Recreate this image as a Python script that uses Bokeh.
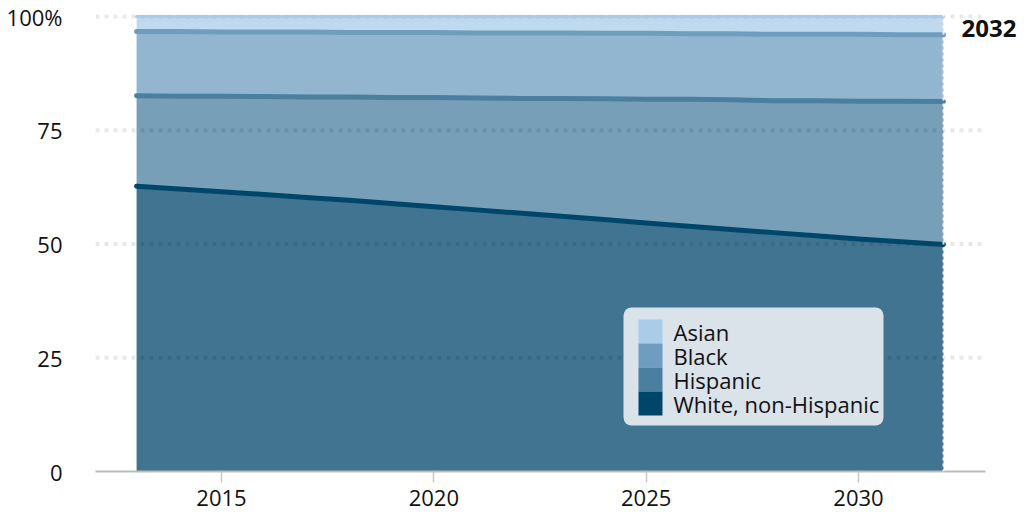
import numpy as np
from bokeh.plotting import figure
from bokeh.models import Range1d, FixedTicker, Span, Label, BoxAnnotation, ColumnDataSource
from bokeh.embed import file_html
from bokeh.resources import INLINE

# Share of population by group, percent (stacked bottom to top)
years = list(range(2013, 2033))
white = [62.7, 62.1, 61.5, 60.9, 60.2, 59.6, 58.9, 58.2, 57.5, 56.8,
         56.1, 55.4, 54.6, 53.9, 53.2, 52.5, 51.8, 51.1, 50.5, 49.9]
hispanic = [19.9, 20.4, 21.0, 21.5, 22.1, 22.7, 23.3, 24.0, 24.6, 25.2,
            25.9, 26.5, 27.2, 27.9, 28.5, 29.0, 29.7, 30.3, 30.9, 31.4]
black = [14.1, 14.2, 14.1, 14.2, 14.3, 14.2, 14.3, 14.3, 14.3, 14.4,
         14.4, 14.4, 14.5, 14.4, 14.5, 14.6, 14.6, 14.7, 14.6, 14.7]
asian = [3.3, 3.3, 3.4, 3.4, 3.4, 3.5, 3.5, 3.5, 3.6, 3.6,
         3.6, 3.7, 3.7, 3.8, 3.8, 3.9, 3.9, 3.9, 4.0, 4.0]

groups = ["White, non-Hispanic", "Hispanic", "Black", "Asian"]
colors = ["#00466b", "#4a7fa0", "#6f9dc0", "#a9cde9"]
x_ticks = [2015, 2020, 2025, 2030]
y_ticks = [0, 25, 50, 75, 100]
y_tick_labels = {0: "0", 25: "25", 50: "50", 75: "75", 100: "100%"}
last_year = 2032

FONT = "Open Sans"
X_START, X_AXIS_END, X_END = 2012.033, 2032.99, 2033.908
Y_END = 101.98

# page layout in pixels
LEFT, TOP, WIDTH, HEIGHT = 95, 7, 1024, 512
FRAME_W = WIDTH - LEFT
FRAME_B = 471


def px_x(px):
    """Horizontal page pixel -> data x."""
    return X_START + (px - LEFT) * (X_END - X_START) / FRAME_W


def px_y(py):
    """Vertical page pixel -> data y."""
    return (FRAME_B - py) * Y_END / (FRAME_B - TOP)


stack = np.cumsum(np.array([white, hispanic, black, asian]), axis=0)
bottoms = np.vstack([np.zeros(len(years)), stack[:-1]])

p = figure(width=WIDTH, height=HEIGHT, output_backend="svg", toolbar_location=None,
           x_range=Range1d(X_START, X_END), y_range=Range1d(0, Y_END),
           min_border_left=LEFT, min_border_right=0, min_border_top=TOP,
           min_border_bottom=HEIGHT - FRAME_B, outline_line_color=None,
           background_fill_color="white", border_fill_color="white")

# stacked areas
for i in range(4):
    src = ColumnDataSource(dict(x=years, y1=bottoms[i], y2=stack[i]))
    p.varea(x="x", y1="y1", y2="y2", source=src, fill_color=colors[i], fill_alpha=0.75)

# dotted horizontal guides, drawn over the areas
grid_ticks = [t for t in y_ticks if t > 0]
p.segment(x0=[X_START] * len(grid_ticks), x1=[X_AXIS_END] * len(grid_ticks),
          y0=grid_ticks, y1=grid_ticks, line_color="black", line_alpha=0.09,
          line_width=4, line_dash="4 5")

# boundary line on top of each layer
for i in range(4):
    p.line(years, stack[i], line_color=colors[i], line_width=3 if i == 3 else 5,
           line_cap="round", line_join="round")

p.add_layout(Span(location=last_year, dimension="height", line_color="white",
                  line_dash="3 3", line_width=2, line_alpha=0.85))

p.add_layout(Label(x=last_year, y=97.4, x_offset=18, text=str(last_year),
                   text_font=FONT, text_font_size="24px", text_font_style="bold",
                   text_color="#111111", text_baseline="middle", text_align="left"))

# legend panel
p.add_layout(BoxAnnotation(left=px_x(623), right=px_x(883), top=px_y(307), bottom=px_y(425),
                           fill_color="#dae2ea", fill_alpha=1, line_color=None,
                           border_radius=8))
ROW = 24
for k, i in enumerate(reversed(range(4))):
    top = 319 + k * ROW
    p.add_layout(BoxAnnotation(left=px_x(638), right=px_x(662), top=px_y(top),
                               bottom=px_y(top + ROW), fill_color=colors[i],
                               fill_alpha=1, line_color=None))
    p.add_layout(Label(x=px_x(673), y=px_y(top + ROW / 2), text=groups[i],
                       text_font=FONT, text_font_size="22px", text_color="#111111",
                       text_baseline="middle", text_align="left"))

p.xgrid.visible = False
p.ygrid.visible = False

# x axis
xa = p.xaxis[0]
xa.bounds = (X_START, X_AXIS_END)
xa.ticker = FixedTicker(ticks=x_ticks)
xa.axis_line_color = "#bbbbbb"
xa.axis_line_width = 2
xa.major_tick_line_color = "#c8c8c8"
xa.major_tick_line_width = 1.5
xa.major_tick_out = 11
xa.major_tick_in = 0
xa.minor_tick_line_color = None
xa.major_label_text_font = FONT
xa.major_label_text_font_size = "22px"
xa.major_label_text_color = "#111111"
xa.major_label_standoff = 7

# y axis
ya = p.yaxis[0]
ya.ticker = FixedTicker(ticks=y_ticks)
ya.major_label_overrides = y_tick_labels
ya.axis_line_color = None
ya.major_tick_line_color = None
ya.minor_tick_line_color = None
ya.major_label_text_font = FONT
ya.major_label_text_font_size = "22px"
ya.major_label_text_color = "#111111"
ya.major_label_standoff = 27

open("out.html", "w").write(file_html(p, INLINE))
